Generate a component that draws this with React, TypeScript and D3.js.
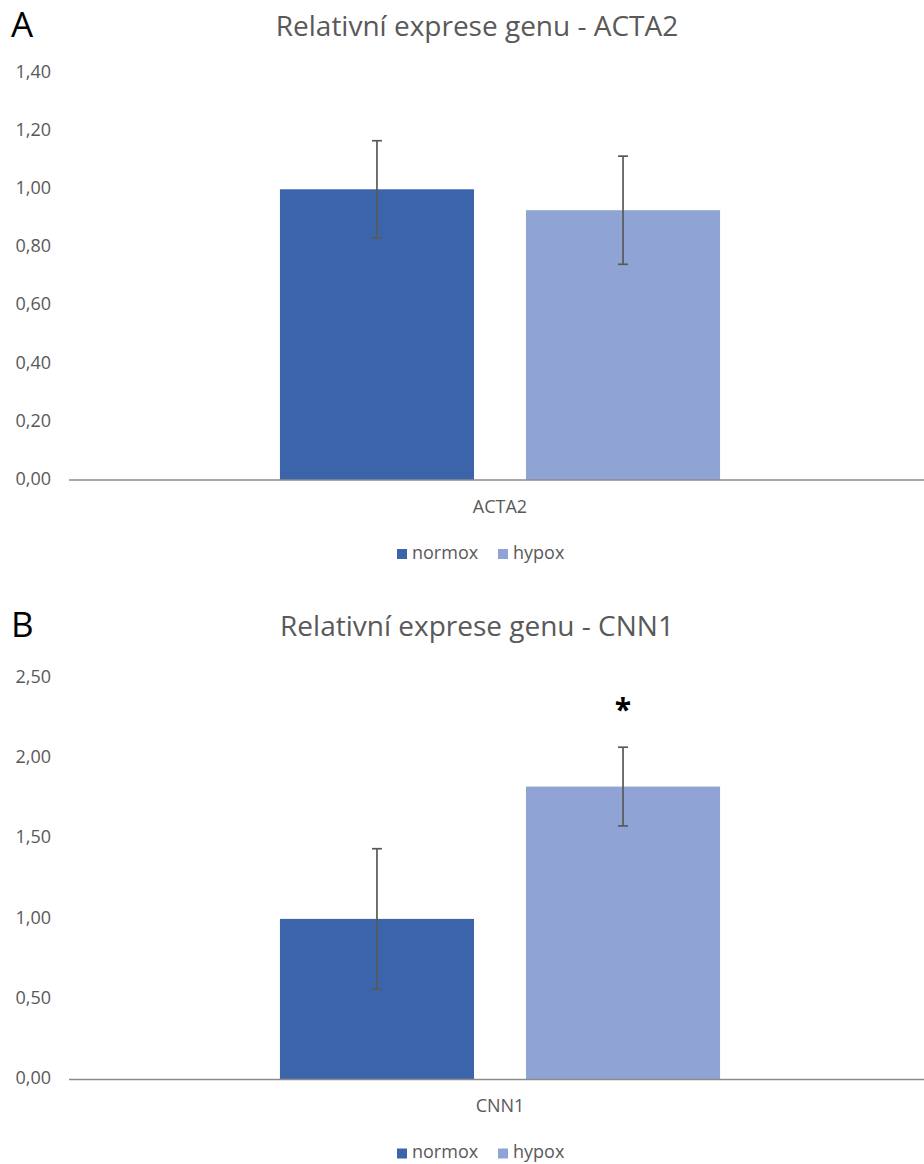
import React from "react";
import * as d3 from "d3";

const seriesNames = ["normox", "hypox"];
const seriesColors = ["#3c64ab", "#8fa3d4"];

const panelLetters = ["A", "B"];
const panelTitles = ["Relativní exprese genu - ACTA2", "Relativní exprese genu - CNN1"];
const panelCategories = [["ACTA2"], ["CNN1"]];
const acta2Means = [1.0, 0.928];
const acta2Errors = [0.167, 0.186];
const cnn1Means = [1.0, 1.824];
const cnn1Errors = [0.437, 0.245];
const acta2Ticks = [0, 0.2, 0.4, 0.6, 0.8, 1.0, 1.2, 1.4];
const cnn1Ticks = [0, 0.5, 1.0, 1.5, 2.0, 2.5];
const cnn1Significance = ["", "*"];

const locale = d3.formatLocale({ decimal: ",", thousands: " ", grouping: [3], currency: ["", " Kč"] });
const fmt = locale.format(".2f");

const FONT = "'Open Sans', sans-serif";
const GRAY = "#595959";

type PanelProps = {
  top: number;
  letter: string;
  title: string;
  categories: string[];
  means: number[];
  errors: number[];
  ticks: number[];
  yTop: number;
  yBase: number;
  marks?: string[];
};

function Panel(p: PanelProps) {
  const yMax = p.ticks[p.ticks.length - 1];
  const y = d3.scaleLinear().domain([0, yMax]).range([p.yBase, p.yTop]);
  const x0 = d3.scaleBand().domain(p.categories).range([70, 930]).paddingOuter(0.477).paddingInner(0);
  const x1 = d3.scaleBand().domain(seriesNames).range([0, x0.bandwidth()]).paddingInner(0.2114).paddingOuter(0);
  const cat = p.categories[0];
  const cx = (x0(cat) || 0) + x0.bandwidth() / 2;
  const legendY = p.yBase + 74;
  return (
    <g transform={`translate(0,${p.top})`}>
      <text x={11} y={37} fontFamily={FONT} fontSize={35} fill="#000">{p.letter}</text>
      <text x={477} y={36} textAnchor="middle" fontFamily={FONT} fontSize={28} fill={GRAY}>{p.title}</text>
      {p.ticks.map((t) => (
        <text key={t} x={51} y={y(t)} textAnchor="end" dominantBaseline="middle" fontFamily={FONT} fontSize={18} fill={GRAY}>
          {fmt(t)}
        </text>
      ))}
      {seriesNames.map((s, i) => {
        const bx = (x0(cat) || 0) + (x1(s) || 0);
        const bw = x1.bandwidth();
        const m = p.means[i];
        const e = p.errors[i];
        const ex = bx + bw / 2;
        return (
          <g key={s}>
            <rect x={bx} y={y(m)} width={bw} height={p.yBase - y(m)} fill={seriesColors[i]} />
            <line x1={ex} x2={ex} y1={y(m + e)} y2={y(m - e)} stroke={GRAY} strokeWidth={1.7} />
            <line x1={ex - 5} x2={ex + 5} y1={y(m + e)} y2={y(m + e)} stroke={GRAY} strokeWidth={1.7} />
            <line x1={ex - 5} x2={ex + 5} y1={y(m - e)} y2={y(m - e)} stroke={GRAY} strokeWidth={1.7} />
            {p.marks && p.marks[i] ? (
              <text x={ex} y={y(m + e) - 27} textAnchor="middle" fontFamily={FONT} fontWeight="bold" fontSize={30} fill="#000">
                {p.marks[i]}
              </text>
            ) : null}
          </g>
        );
      })}
      <line x1={69} x2={924} y1={p.yBase} y2={p.yBase} stroke="#8c8c8c" strokeWidth={1.5} />
      <text x={cx} y={p.yBase + 28} textAnchor="middle" dominantBaseline="middle" fontFamily={FONT} fontSize={18} fill={GRAY}>
        {cat}
      </text>
      {seriesNames.map((s, i) => {
        const lx = i === 0 ? 397 : 498;
        return (
          <g key={"lg" + s}>
            <rect x={lx} y={legendY - 5} width={10} height={10} fill={seriesColors[i]} />
            <text x={lx + 15} y={legendY} dominantBaseline="middle" fontFamily={FONT} fontSize={18} fill={GRAY}>
              {s}
            </text>
          </g>
        );
      })}
    </g>
  );
}

export default function App() {
  return (
    <svg width={924} height={1164} style={{ position: "absolute", left: 0, top: 0, background: "#fff" }}>
      <rect width={924} height={1164} fill="#fff" />
      <Panel top={0} letter={panelLetters[0]} title={panelTitles[0]} categories={panelCategories[0]}
        means={acta2Means} errors={acta2Errors} ticks={acta2Ticks} yTop={73} yBase={480} />
      <Panel top={600} letter={panelLetters[1]} title={panelTitles[1]} categories={panelCategories[1]}
        means={cnn1Means} errors={cnn1Errors} ticks={cnn1Ticks} yTop={78} yBase={479.5} marks={cnn1Significance} />
    </svg>
  );
}
